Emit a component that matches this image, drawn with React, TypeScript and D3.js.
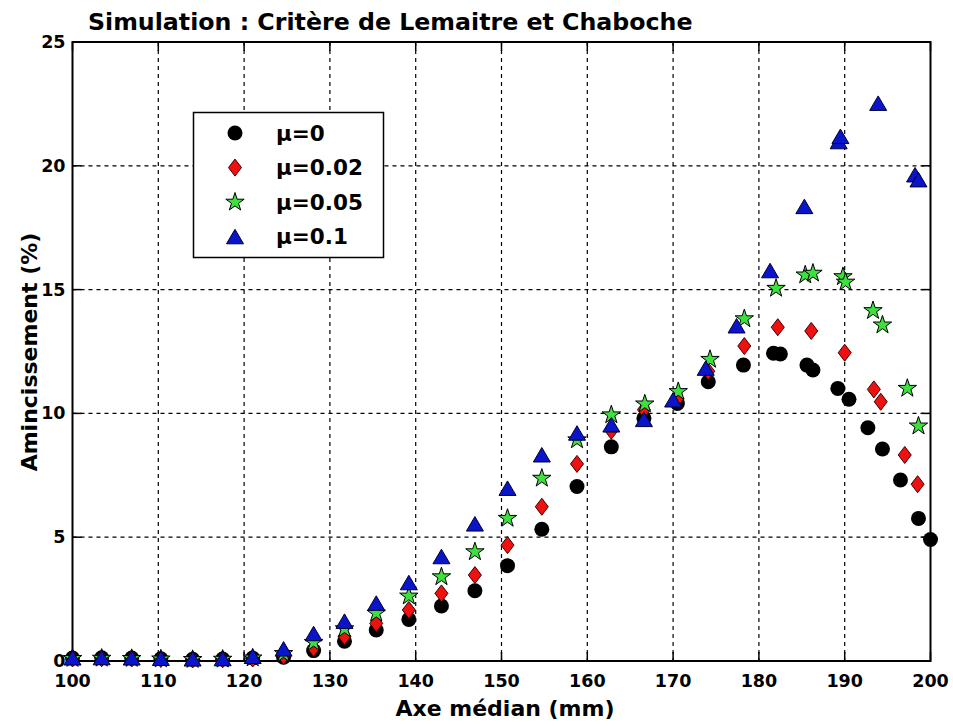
import * as d3 from 'd3';

// data (x in mm, y in %)
const blackX = [100, 103.4, 106.9, 110.3, 114.0, 117.5, 121.0, 124.6, 128.1, 131.7, 135.4, 139.2, 143.0, 146.9, 150.7, 154.7, 158.8, 162.8, 166.6, 170.5, 174.1, 178.2, 181.7, 182.5, 185.6, 186.3, 189.2, 190.5, 192.7, 194.4, 196.5, 198.6, 200];
const blackY = [0.12, 0.13, 0.12, 0.09, 0.07, 0.08, 0.12, 0.15, 0.42, 0.8, 1.25, 1.68, 2.22, 2.84, 3.85, 5.32, 7.05, 8.65, 9.8, 10.4, 11.28, 11.95, 12.43, 12.4, 11.95, 11.75, 11.01, 10.57, 9.42, 8.56, 7.31, 5.76, 4.91];

const redX = [100, 103.4, 106.9, 110.3, 114.0, 117.5, 121.0, 124.6, 128.1, 131.7, 135.4, 139.2, 143.0, 146.9, 150.7, 154.7, 158.8, 162.8, 166.6, 170.5, 174.1, 178.3, 182.2, 186.1, 190.0, 193.4, 194.2, 197.0, 198.5];
const redY = [0.1, 0.11, 0.1, 0.08, 0.06, 0.07, 0.1, 0.2, 0.52, 1.0, 1.52, 2.06, 2.73, 3.47, 4.68, 6.23, 7.96, 9.3, 10.15, 10.6, 11.7, 12.72, 13.48, 13.33, 12.45, 10.97, 10.47, 8.32, 7.14];

const greenX = [100, 103.4, 106.9, 110.3, 114.0, 117.5, 121.0, 124.6, 128.1, 131.7, 135.4, 139.2, 143.0, 146.9, 150.7, 154.7, 158.8, 162.8, 166.7, 170.6, 174.3, 178.3, 182.0, 185.4, 186.3, 189.8, 190.1, 193.3, 194.4, 197.3, 198.6];
const greenY = [0.1, 0.11, 0.1, 0.08, 0.06, 0.07, 0.12, 0.3, 0.75, 1.3, 1.93, 2.62, 3.4, 4.41, 5.76, 7.38, 8.93, 9.94, 10.38, 10.88, 12.18, 13.82, 15.05, 15.59, 15.66, 15.52, 15.3, 14.15, 13.57, 11.01, 9.49];

const blueX = [100, 103.4, 106.9, 110.3, 114.0, 117.5, 121.0, 124.6, 128.1, 131.7, 135.4, 139.2, 143.0, 146.9, 150.7, 154.7, 158.8, 162.8, 166.6, 170.0, 173.8, 177.4, 181.3, 185.3, 189.3, 189.5, 193.9, 198.2, 198.6];
const blueY = [0.12, 0.13, 0.12, 0.1, 0.08, 0.09, 0.18, 0.48, 1.1, 1.6, 2.33, 3.16, 4.21, 5.53, 6.97, 8.32, 9.2, 9.53, 9.75, 10.54, 11.82, 13.53, 15.76, 18.35, 20.97, 21.18, 22.52, 19.63, 19.43];

const legendLabels = ['μ=0', 'μ=0.02', 'μ=0.05', 'μ=0.1'];
const xTicks = [100, 110, 120, 130, 140, 150, 160, 170, 180, 190, 200];
const yTicks = [0, 5, 10, 15, 20, 25];

const FONT = '"DejaVu Sans", sans-serif';

// marker paths, centred on 0,0
const circlePath = d3.symbol(d3.symbolCircle, Math.PI * 7.5 * 7.5)()!;
const starPath = d3.symbol(d3.symbolStar, 105)()!;
const diamondPath = 'M0,-8.5L6.5,0L0,8.5L-6.5,0Z';
const trianglePath = 'M0,-7.5L8.5,7L-8.5,7Z';

const series = [
    { xs: blackX, ys: blackY, path: circlePath, fill: '#000000', stroke: 'none' },
    { xs: redX, ys: redY, path: diamondPath, fill: '#f01010', stroke: '#3a0000' },
    { xs: greenX, ys: greenY, path: starPath, fill: '#3de03d', stroke: '#000000' },
    { xs: blueX, ys: blueY, path: trianglePath, fill: '#0a14c8', stroke: '#000033' },
];

function App() {
    const left = 72.5, right = 930.5, top = 42, bottom = 661;

    const x = d3.scaleLinear().domain([100, 200]).range([left, right]);
    const y = d3.scaleLinear().domain([0, 25]).range([bottom, top]);

    const tickLen = 9;

    return (
        <svg width={953} height={726} style={{ position: 'absolute', left: 0, top: 0, background: '#fff' }}>
            <rect x={0} y={0} width={953} height={726} fill="#fff" />

            {/* grid */}
            <g stroke="#000" strokeWidth={1.2} strokeDasharray="4,4">
                {xTicks.slice(1, -1).map(t => (
                    <line key={'gx' + t} x1={x(t)} x2={x(t)} y1={top} y2={bottom} />
                ))}
                {yTicks.slice(1, -1).map(t => (
                    <line key={'gy' + t} x1={left} x2={right} y1={y(t)} y2={y(t)} />
                ))}
            </g>

            {/* ticks, inward on all four sides */}
            <g stroke="#000" strokeWidth={1.5}>
                {xTicks.map(t => (
                    <g key={'tx' + t}>
                        <line x1={x(t)} x2={x(t)} y1={bottom} y2={bottom - tickLen} />
                        <line x1={x(t)} x2={x(t)} y1={top} y2={top + tickLen} />
                    </g>
                ))}
                {yTicks.map(t => (
                    <g key={'ty' + t}>
                        <line x1={left} x2={left + tickLen} y1={y(t)} y2={y(t)} />
                        <line x1={right} x2={right - tickLen} y1={y(t)} y2={y(t)} />
                    </g>
                ))}
            </g>

            {/* box */}
            <rect x={left} y={top} width={right - left} height={bottom - top} fill="none" stroke="#000" strokeWidth={2} />

            {/* tick labels */}
            <g fontFamily={FONT} fontWeight="bold" fontSize={17.5} fill="#000">
                {xTicks.map(t => (
                    <text key={'lx' + t} x={x(t)} y={687} textAnchor="middle">{t}</text>
                ))}
                {yTicks.map(t => (
                    <text key={'ly' + t} x={left - 7} y={y(t)} textAnchor="end" dominantBaseline="central">{t}</text>
                ))}
            </g>

            {/* markers */}
            {series.map((s, i) => (
                <g key={'s' + i} fill={s.fill} stroke={s.stroke} strokeWidth={1}>
                    {s.xs.map((xv, j) => (
                        <path key={j} d={s.path} transform={`translate(${x(xv)},${y(s.ys[j])})`} />
                    ))}
                </g>
            ))}

            {/* titles */}
            <text x={88} y={30} fontFamily={FONT} fontWeight="bold" fontSize={23.7} fill="#000">
                Simulation : Critère de Lemaitre et Chaboche
            </text>
            <text x={505} y={716} fontFamily={FONT} fontWeight="bold" fontSize={22} textAnchor="middle" fill="#000">
                Axe médian (mm)
            </text>
            <text transform="translate(37,352) rotate(-90)" fontFamily={FONT} fontWeight="bold" fontSize={22} textAnchor="middle" fill="#000">
                Amincissement (%)
            </text>

            {/* legend */}
            <g>
                <rect x={193.5} y={112.5} width={190} height={145} fill="#fff" stroke="#000" strokeWidth={1.5} />
                {series.map((s, i) => {
                    const ry = 133 + i * 34.6;
                    return (
                        <g key={'lg' + i}>
                            <path d={s.path} transform={`translate(235,${ry})`} fill={s.fill} stroke={s.stroke} strokeWidth={1} />
                            <text x={276} y={ry} dominantBaseline="central" fontFamily={FONT} fontWeight="bold" fontSize={21.5} fill="#000">
                                {legendLabels[i]}
                            </text>
                        </g>
                    );
                })}
            </g>
        </svg>
    );
}

export default App;
